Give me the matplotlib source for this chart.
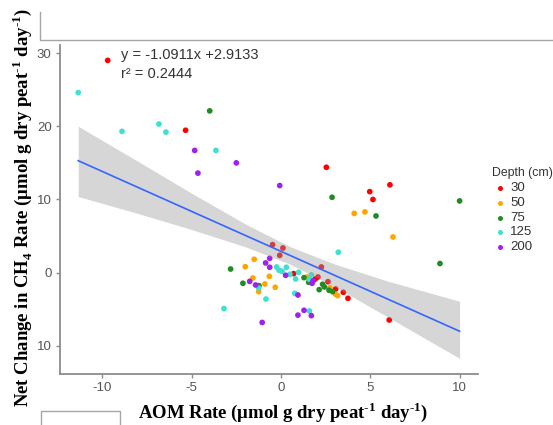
import matplotlib.pyplot as plt
from matplotlib.lines import Line2D
from matplotlib.patches import Rectangle

W, H = 553, 425

# depth groups
depths = ['30', '50', '75', '125', '200']
colors = ['#FF0000', '#FFA500', '#228B22', '#40E0D0', '#A020F0']

# AOM rate (x) and net change in CH4 rate (y)
aom_30 = [-9.7, -5.34, 2.54, 4.97, 6.1, 5.15, -0.47, 0.11, -0.07, 0.71, 2.26,
          2.07, 1.92, 2.63, 3.06, 3.49, 3.75, 6.06]
ch4_30 = [29.0, 19.45, 14.4, 11.07, 12.0, 10.0, 3.83, 3.37, 2.37, -0.13, 0.78,
          -0.59, -0.86, -1.23, -2.23, -2.68, -3.5, -6.46]

aom_50 = [4.1, 4.7, 6.27, -1.5, -2.0, -0.65, -1.57, -0.9, -0.32, -1.25, 1.47,
          2.74, 3.04, 3.17]
ch4_50 = [8.1, 8.3, 4.88, 1.83, 0.82, -0.5, -0.72, -1.54, -1.99, -2.6, -0.59,
          -2.05, -2.91, -3.14]

aom_75 = [-3.99, 2.86, 5.32, 10.0, 8.9, -2.82, -2.13, -1.23, 1.29, 1.55, 2.33,
          2.43, 2.14, 2.69, 2.89]
ch4_75 = [22.1, 10.3, 7.75, 9.8, 1.25, 0.5, -1.45, -1.77, -0.68, -1.31, -1.58,
          -1.95, -2.32, -2.4, -2.59]

aom_125 = [-11.35, -8.9, -6.83, -6.44, -3.64, 3.21, -0.24, -0.11, 0.06, 0.3,
           0.5, 0.82, 0.99, -1.25, 0.77, -0.84, -3.19, 1.59, 1.7, 1.59]
ch4_125 = [24.6, 19.3, 20.3, 19.2, 16.7, 2.79, 0.78, 0.33, 0.19, 0.74,
           -0.22, -0.86, 0.05, -2.09, -2.82, -3.6, -4.9, -0.9, -0.31, -5.23]

aom_200 = [-4.83, -4.65, -2.5, -0.07, -0.63, -0.86, -0.63, 0.26, -1.75, -1.42,
           0.95, 0.95, -1.05, 1.81, 1.74, 1.29, 1.7]
ch4_200 = [16.7, 13.6, 15.0, 11.9, 1.96, 1.33, 0.74, -0.36, -1.18, -1.68,
           -3.05, -5.8, -6.8, -1.09, -1.45, -5.14, -5.87]

aom = [aom_30, aom_50, aom_75, aom_125, aom_200]
ch4 = [ch4_30, ch4_50, ch4_75, ch4_125, ch4_200]

# fitted line from the printed equation
slope, intercept, r2 = -1.0911, 2.9133, 0.2444

# confidence band edges
band_x = [-11.35, -8, -5, -2, 0.5, 3, 6, 10]
band_hi = [20.0, 15.2, 10.85, 6.66, 3.57, 1.18, -1.17, -3.9]
band_lo = [10.4, 8.08, 5.89, 3.54, 1.17, -1.9, -6.09, -11.7]

xticks = [-10, -5, 0, 5, 10]
yticks = [-10, 0, 10, 20, 30]
ytick_labels = ['10', '0', '10', '20', '30']

plt.rcParams['mathtext.fontset'] = 'custom'
plt.rcParams['mathtext.rm'] = 'Liberation Serif:bold'
plt.rcParams['mathtext.bf'] = 'Liberation Serif:bold'

fig = plt.figure(figsize=(W / 100, H / 100), dpi=100)
ax = fig.add_axes([60 / W, 1 - 374 / H, 418 / W, 329 / H])

for xs, ys, c in zip(aom, ch4, colors):
    ax.scatter(xs, ys, s=17, color=c, edgecolors='none', zorder=2)

ax.fill_between(band_x, band_lo, band_hi, color='#999999', alpha=0.4,
                linewidth=0, zorder=3)
all_x = [v for xs in aom for v in xs]
fx = [min(all_x), max(all_x)]
ax.plot(fx, [slope * v + intercept for v in fx], color='#3366FF', lw=1.2,
        zorder=4)

ax.set_xlim(-12.37, 11.03)
ax.set_ylim(-13.84, 31.1)
ax.set_xticks(xticks)
ax.set_xticklabels([str(t) for t in xticks])
ax.set_yticks(yticks)
ax.set_yticklabels(ytick_labels)
for s in ['top', 'right']:
    ax.spines[s].set_visible(False)
for s in ['left', 'bottom']:
    ax.spines[s].set_color('#8c8c8c')
    ax.spines[s].set_linewidth(1.3)
ax.tick_params(colors='#8c8c8c', labelcolor='#555555', length=3, width=1,
               labelsize=9.5, pad=3)
for lab in ax.get_xticklabels() + ax.get_yticklabels():
    lab.set_family('Liberation Sans')

# equation
ax.text(-8.98, 29.78, 'y = %.4fx +%.4f' % (slope, intercept),
        family='Liberation Sans', fontsize=10.5, color='#333333', va='center')
ax.text(-8.98, 27.13, 'r² = %.4f' % r2, family='Liberation Sans',
        fontsize=10.5, color='#333333', va='center')

# axis labels (hyphen rather than a minus sign in the exponents)
sup = r'$^{\mathbf{‐1}}$'
fig.text(283 / W, 1 - 412 / H,
         'AOM Rate (μmol g dry peat' + sup + ' day' + sup + ')',
         family='Liberation Serif', fontweight='bold', fontsize=13.5,
         ha='center', va='center')
fig.text(22 / W, 1 - 207 / H,
         r'Net Change in CH$_{\mathbf{4}}$ Rate (μmol g dry peat' + sup
         + ' day' + sup + ')',
         family='Liberation Serif', fontweight='bold', fontsize=13.5,
         ha='center', va='center', rotation=90)

# legend
fig.text(492 / W, 1 - 173 / H, 'Depth (cm)', family='Liberation Sans',
         fontsize=8.8, color='#333333', va='center')
for i, (d, c) in enumerate(zip(depths, colors)):
    yy = 1 - (188 + 14.8 * i) / H
    fig.add_artist(Line2D([500 / W], [yy], transform=fig.transFigure,
                          marker='o', ms=3.6, color=c, mec='none', ls='none'))
    fig.text(510 / W, yy, d, family='Liberation Sans', fontsize=9.5,
             color='#333333', va='center')

# stray frame lines at the top and bottom left
fig.add_artist(Line2D([40 / W, 40 / W, 1], [1 - 12 / H, 1 - 40 / H, 1 - 40 / H],
                      transform=fig.transFigure, color='#a6a6a6', lw=1))
fig.add_artist(Rectangle((40.5 / W, 0 - 2 / H), 80 / W, 16.5 / H,
                         transform=fig.transFigure, facecolor='white',
                         edgecolor='#a6a6a6', lw=1))

fig.savefig('out.png', dpi=100)
